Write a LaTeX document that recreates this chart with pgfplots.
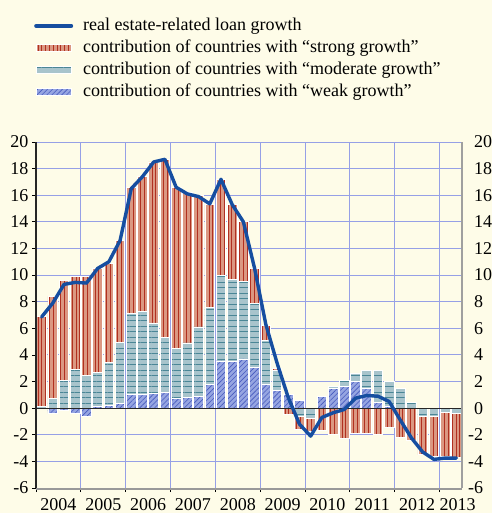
\documentclass[border=0pt]{standalone}
\usepackage{fontspec}
\setmainfont{Liberation Serif}
\usepackage{pgfplots}
\pgfplotsset{compat=1.18}
\usepackage{pgfplotstable}
\usetikzlibrary{patterns.meta}

\definecolor{bgcol}{RGB}{254,252,232}
\definecolor{gridcol}{RGB}{150,160,230}
\definecolor{strongfill}{RGB}{219,152,130}
\definecolor{strongline}{RGB}{176,48,32}
\definecolor{modfill}{RGB}{168,196,204}
\definecolor{modline}{RGB}{74,134,150}
\definecolor{weakfill}{RGB}{150,165,225}
\definecolor{weakline}{RGB}{70,90,190}
\definecolor{linecol}{RGB}{22,78,160}

\pgfplotstableread{
x W M S L
0 0 0.1 6.8 6.85
1 -0.4 0.7 7.7 7.9
2 -0.15 2.1 7.5 9.3
3 -0.4 2.9 7.0 9.45
4 -0.6 2.45 7.45 9.4
5 0.1 2.6 7.8 10.5
6 0.2 3.25 7.45 11.0
7 0.35 4.6 7.65 12.6
8 1.0 6.1 9.5 16.5
9 1.0 6.3 10.1 17.4
10 1.1 5.3 12.1 18.5
11 1.2 4.1 13.4 18.7
12 0.7 3.8 12.1 16.6
13 0.8 4.1 11.3 16.1
14 0.9 5.2 9.9 15.9
15 1.8 5.8 7.7 15.35
16 3.55 6.45 7.2 17.2
17 3.5 6.2 5.6 15.3
18 3.7 5.85 4.45 14.0
19 3.05 4.85 2.6 10.5
20 1.8 3.3 1.1 6.3
21 1.3 1.5 0.15 3.4
22 1.05 0 -0.5 0.8
23 0.6 -0.6 -1.0 -1.2
24 0 -0.75 -1.0 -2.1
25 0.85 0 -1.7 -0.7
26 1.45 0.15 -1.95 -0.35
27 1.65 0.4 -2.25 -0.1
28 2.0 0.6 -1.9 0.75
29 1.5 1.3 -1.9 0.95
30 0.45 2.35 -1.95 0.9
31 0.1 1.9 -1.45 0.5
32 0 1.5 -2.2 -0.9
33 0 0.45 -2.45 -2.25
34 0 -0.6 -2.9 -3.3
35 0 -0.65 -3.0 -3.85
36 0 -0.35 -3.3 -3.75
37 0 -0.4 -3.3 -3.75
}\data

\tikzset{
  strongsty/.style={fill=strongfill, draw=white, line width=0.8bp,
    postaction={pattern={Lines[angle=90,distance=3.8bp,line width=0.9bp]}, pattern color=strongline}},
  modsty/.style={fill=modfill, draw=white, line width=0.8bp,
    postaction={pattern={Lines[angle=0,distance=5.5bp,line width=0.8bp]}, pattern color=modline}},
  weaksty/.style={fill=weakfill, draw=white, line width=0.8bp,
    postaction={pattern={Lines[angle=45,distance=3.5bp,line width=0.6bp]}, pattern color=weakline}},
}
\pgfplotsset{
  base/.style={scale only axis, width=426bp, height=346bp,
    xmin=-0.5, xmax=37.5, ymin=-6, ymax=20, at={(0,0)}, anchor=south west,
    ticklabel style={font=\fontsize{18bp}{21bp}\selectfont}},
}

\begin{document}
\begin{tikzpicture}
\fill[bgcol] (-36bp,-25bp) rectangle (456bp,488bp);
% main axis: grid, left ticks, positive stacks
\begin{axis}[base, ybar stacked, bar width=0.86,
  axis line style={draw=none},
  tick pos=left, tick align=outside,
  xtick={-0.5,3.5,...,35.5}, xticklabels={},
  ytick={-6,-4,...,20},
  yticklabels={-6,-4,-2,0,2,4,6,8,10,12,14,16,18,20},
  grid=major, major grid style={gridcol, line width=0.9bp},
  tick style={black, line width=0.8bp}, major tick length=4bp,
  xticklabel style={yshift=-6bp, inner ysep=0bp},
  extra x ticks={1.5,5.5,9.5,13.5,17.5,21.5,25.5,29.5,33.5,37.1},
  extra x tick labels={2004,2005,2006,2007,2008,2009,2010,2011,2012,2013},
  extra x tick style={grid=none, tick style={draw=none}},
]
\addplot[weaksty] table[x=x, y expr={max(\thisrow{W},0)}] {\data};
\addplot[modsty] table[x=x, y expr={max(\thisrow{M},0)}] {\data};
\addplot[strongsty] table[x=x, y expr={max(\thisrow{S},0)}] {\data};
\end{axis}
% negative stacks, right labels
\begin{axis}[base, ybar stacked, bar width=0.86,
  axis x line=none, axis y line*=right, y axis line style={draw=none},
  ytick={-6,-4,...,20},
  yticklabels={\llap{-}6,\llap{-}4,\llap{-}2,0,2,4,6,8,10,12,14,16,18,20},
  major tick length=0pt, yticklabel style={xshift=8.5bp, inner ysep=0bp},
]
\addplot[weaksty] table[x=x, y expr={min(\thisrow{W},0)}] {\data};
\addplot[modsty] table[x=x, y expr={min(\thisrow{M},0)}] {\data};
\addplot[strongsty] table[x=x, y expr={min(\thisrow{S},0)}] {\data};
\end{axis}
% line, axis lines, legend
\begin{axis}[base, hide axis, clip=false,
  legend style={at={(-0.0047,1.368)}, anchor=north west, draw=none, fill=none,
    font=\fontsize{18bp}{21bp}\selectfont, legend cell align=left,
    row sep=0pt, inner sep=0pt,
    nodes={inner ysep=2.25bp, text height=13bp, text depth=4.5bp},
    /tikz/every odd column/.append style={column sep=8bp}},
]
\draw[black!85, line width=1.3bp] (axis cs:-0.5,0) -- (axis cs:37.5,0);
\draw[black!85, line width=1.3bp] (rel axis cs:0,0) -- (rel axis cs:0,1);
\draw[gray!75, line width=1.5bp] (rel axis cs:1,0) -- (rel axis cs:1,1);
\draw[gray!80, line width=2bp] (rel axis cs:0,-0.004) -- (rel axis cs:1,-0.004);
\addplot[linecol, line width=3.4bp, line join=round, line cap=round, mark=none,
  legend image code/.code={\draw[linecol, line width=4bp] (0bp,0bp) -- (35bp,0bp);}]
  table[x=x, y=L] {\data};
\addlegendentry{real estate-related loan growth}
\addlegendimage{legend image code/.code={\draw[strongsty] (0bp,-3.5bp) rectangle (35bp,3.5bp);}}
\addlegendentry{contribution of countries with ``strong growth''}
\addlegendimage{legend image code/.code={\draw[modsty] (0bp,-3.5bp) rectangle (35bp,3.5bp);}}
\addlegendentry{contribution of countries with ``moderate growth''}
\addlegendimage{legend image code/.code={\draw[weaksty] (0bp,-3.5bp) rectangle (35bp,3.5bp);}}
\addlegendentry{contribution of countries with ``weak growth''}
\end{axis}
\pgfresetboundingbox
\path[use as bounding box] (-36bp,-25bp) rectangle (456bp,488bp);
\end{tikzpicture}
\end{document}
